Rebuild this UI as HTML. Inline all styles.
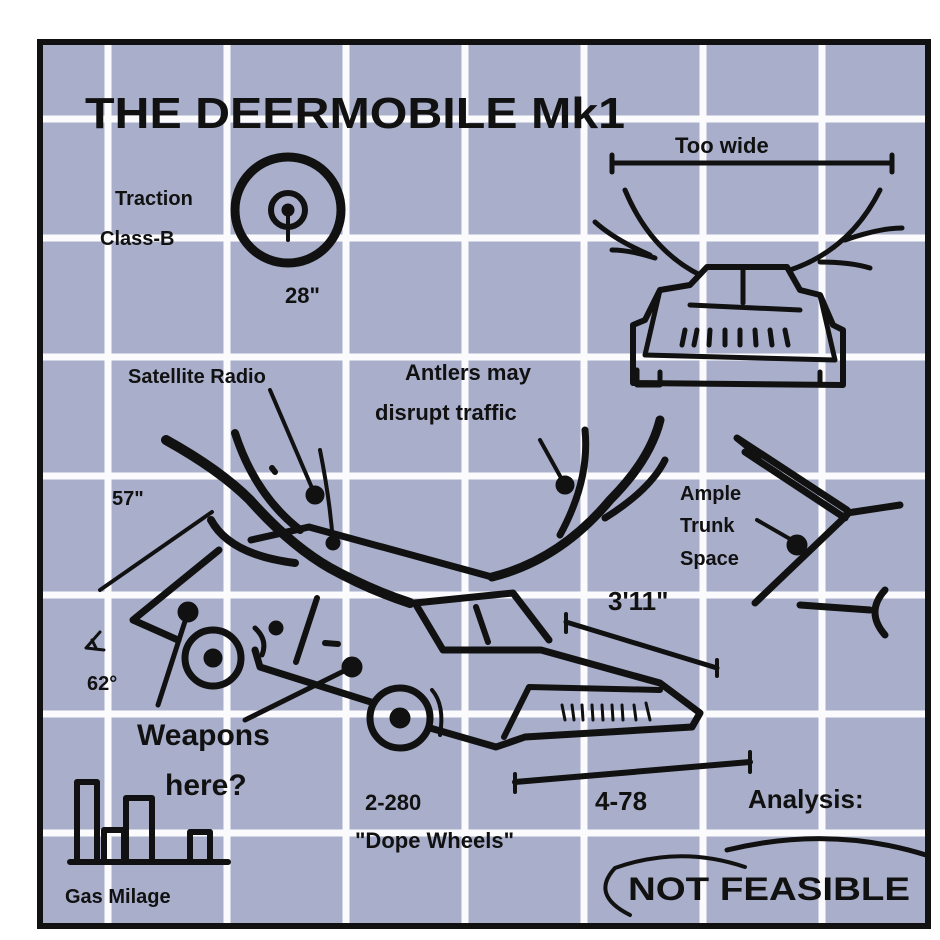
<!DOCTYPE html>
<html><head><meta charset="utf-8"><style>
html,body{margin:0;padding:0;background:#fff;}
svg{display:block}
text{font-family:"Liberation Sans",sans-serif;font-weight:bold;fill:#111;}
</style></head><body>
<svg width="940" height="940" viewBox="0 0 940 940" xmlns="http://www.w3.org/2000/svg">
<rect x="0" y="0" width="940" height="940" fill="#fff"/>
<rect x="40" y="42" width="888" height="884" fill="#a9afcb"/>
<g stroke="#fbfbfd" stroke-width="7">
<line x1="108" y1="42" x2="108" y2="926"/><line x1="227" y1="42" x2="227" y2="926"/>
<line x1="346" y1="42" x2="346" y2="926"/><line x1="465" y1="42" x2="465" y2="926"/>
<line x1="584" y1="42" x2="584" y2="926"/><line x1="703" y1="42" x2="703" y2="926"/>
<line x1="822" y1="42" x2="822" y2="926"/>
<line x1="40" y1="119" x2="928" y2="119"/><line x1="40" y1="238" x2="928" y2="238"/>
<line x1="40" y1="357" x2="928" y2="357"/><line x1="40" y1="476" x2="928" y2="476"/>
<line x1="40" y1="595" x2="928" y2="595"/><line x1="40" y1="714" x2="928" y2="714"/>
<line x1="40" y1="833" x2="928" y2="833"/>
</g>
<rect x="40" y="42" width="888" height="884" fill="none" stroke="#111" stroke-width="6"/>

<text x="85" y="128" font-size="44" textLength="540" lengthAdjust="spacingAndGlyphs">THE DEERMOBILE Mk1</text>
<text x="115" y="205" font-size="20" font-weight="normal">Traction</text>
<text x="100" y="245" font-size="20" font-weight="normal">Class-B</text>
<g stroke="#111" fill="none" stroke-linecap="round">
<circle cx="288" cy="210" r="53" stroke-width="9"/>
<circle cx="288" cy="210" r="17" stroke-width="6"/>
<circle cx="288" cy="210" r="6" fill="#111"/>
<line x1="288" y1="215" x2="288" y2="240" stroke-width="4"/>
</g>
<text x="285" y="303" font-size="22" font-weight="normal">28"</text>

<text x="675" y="153" font-size="22" font-weight="normal">Too wide</text>
<g stroke="#111" fill="none" stroke-width="5" stroke-linecap="round" stroke-linejoin="round">
<line x1="612" y1="163" x2="892" y2="163"/><line x1="612" y1="155" x2="612" y2="172"/><line x1="892" y1="155" x2="892" y2="172"/>
<path d="M707 267 L787 267 L800 290 L820 295 L833 325 L843 330 L843 385 L633 383 L633 325 L645 320 L660 290 L690 285 Z" stroke-width="6"/>
<path d="M690 305 L800 310 M743 270 L743 303 M645 355 L835 360 M660 290 L645 355 M820 295 L835 360"/>
<path d="M700 275 Q650 250 625 190 M650 255 Q615 240 595 222 M655 258 Q630 250 612 250 M790 270 Q850 250 880 190 M845 240 Q880 228 902 228 M820 262 Q850 262 870 268"/>
<path d="M685 330 L682 345 M697 330 L694 345 M710 330 L709 345 M725 330 L725 345 M740 330 L740 345 M755 330 L756 345 M770 330 L772 345 M785 330 L788 345"/>
<path d="M637 370 L637 385 L660 385 L660 372 M820 372 L820 385 L842 385"/>
</g>

<text x="128" y="383" font-size="20" font-weight="normal">Satellite Radio</text>
<text x="405" y="380" font-size="22" font-weight="normal">Antlers may</text>
<text x="375" y="420" font-size="22" font-weight="normal">disrupt traffic</text>
<text x="112" y="505" font-size="20" font-weight="normal">57"</text>
<text x="87" y="690" font-size="20" font-weight="normal">62°</text>
<text x="137" y="745" font-size="30">Weapons</text>
<text x="165" y="795" font-size="30">here?</text>
<text x="365" y="810" font-size="22" font-weight="normal">2-280</text>
<text x="355" y="848" font-size="22" font-weight="normal">"Dope Wheels"</text>
<text x="595" y="810" font-size="26" font-weight="normal">4-78</text>
<text x="748" y="808" font-size="26" font-weight="normal">Analysis:</text>
<text x="608" y="610" font-size="26" font-weight="normal">3'11"</text>
<text x="680" y="500" font-size="20" font-weight="normal">Ample</text>
<text x="680" y="532" font-size="20" font-weight="normal">Trunk</text>
<text x="680" y="565" font-size="20" font-weight="normal">Space</text>
<text x="65" y="903" font-size="20" font-weight="normal">Gas Milage</text>
<text x="628" y="900" font-size="32" textLength="282" lengthAdjust="spacingAndGlyphs">NOT FEASIBLE</text>

<g stroke="#111" fill="none" stroke-width="7" stroke-linecap="round" stroke-linejoin="round">
<path d="M100 632 L86 648 L104 650 M92 640 L96 648" stroke-width="3"/>
<!-- car body -->
<path d="M219 550 L133 620 L178 640" stroke-width="7"/>
<path d="M251 540 L309 527 L492 577"/>
<path d="M255 650 L260 667 L374 703" stroke-width="7"/>
<path d="M430 728 L496 747 L525 737 L692 727 L700 713 L660 683 L541 650 L443 650 L415 603 L513 593 L549 640"/>
<path d="M476 607 L488 642 M529 687 L504 737 M529 687 L660 690" stroke-width="6"/>
<circle cx="213" cy="658" r="28"/><circle cx="213" cy="658" r="6" fill="#111"/>
<circle cx="400" cy="718" r="30"/><circle cx="400" cy="718" r="7" fill="#111"/>
<path d="M432 690 Q445 705 440 735" stroke-width="4"/>
<!-- grill -->
<path d="M562 705 L565 720 M572 705 L574 720 M582 705 L583 720 M592 705 L593 720 M602 705 L603 720 M612 705 L613 720 M622 705 L623 720 M634 705 L636 720 M646 703 L650 720" stroke-width="3"/>
<!-- antlers -->
<path d="M166 440 Q220 470 250 500 Q290 545 330 568 Q370 590 410 603" stroke-width="10"/>
<path d="M235 433 Q255 495 300 530" stroke-width="8"/>
<path d="M211 520 Q230 555 295 563" stroke-width="8"/>
<path d="M272 468 L275 472" stroke-width="6"/>
<path d="M492 577 Q560 560 610 500 Q650 460 660 420" stroke-width="9"/>
<path d="M560 535 Q590 480 585 430" stroke-width="7"/>
<path d="M605 518 Q650 490 665 460" stroke-width="7"/>
<!-- pointer lines -->
<path d="M270 390 L315 495" stroke-width="4"/><circle cx="315" cy="495" r="6" fill="#111"/>
<path d="M320 450 Q330 500 333 543" stroke-width="4"/><circle cx="333" cy="543" r="4" fill="#111"/>
<path d="M540 440 L565 485" stroke-width="4"/><circle cx="565" cy="485" r="6" fill="#111"/>
<path d="M100 590 L212 512" stroke-width="4"/>
<path d="M566 622 L717 668" stroke-width="5"/><path d="M566 614 L566 632 M717 660 L717 676" stroke-width="4"/>
<path d="M515 782 L750 762" stroke-width="6"/><path d="M515 774 L515 792 M750 752 L750 772" stroke-width="4"/>
<circle cx="188" cy="612" r="7" fill="#111"/><path d="M188 612 L158 705" stroke-width="5"/>
<circle cx="352" cy="667" r="7" fill="#111"/><path d="M352 667 L245 720" stroke-width="5"/>
<path d="M317 598 L296 662" stroke-width="6"/>
<circle cx="276" cy="628" r="4" fill="#111"/><path d="M325 643 L338 644" stroke-width="6"/>
<path d="M255 628 Q268 640 262 655" stroke-width="5"/>
<path d="M757 520 L797 543" stroke-width="4"/><circle cx="797" cy="545" r="7" fill="#111"/>
<!-- trunk -->
<path d="M737 438 L847 510 M745 452 L845 518 M737 438 L752 450 L760 455 M847 513 L900 505 M847 515 L755 603 M800 605 L870 610 M885 590 Q865 612 885 635"/>
<!-- bar chart -->
<path d="M70 862 L228 862 M77 862 L77 782 L97 782 L97 862 M104 862 L104 830 L124 830 L124 862 M126 862 L126 798 L152 798 L152 862 M190 862 L190 832 L210 832 L210 862" stroke-width="6"/>
<!-- ellipse -->
<path d="M745 867 Q680 845 615 868 Q590 895 630 915" stroke-width="4"/>
<path d="M727 850 Q830 825 926 855" stroke-width="5"/>
</g>
</svg>
</body></html>
